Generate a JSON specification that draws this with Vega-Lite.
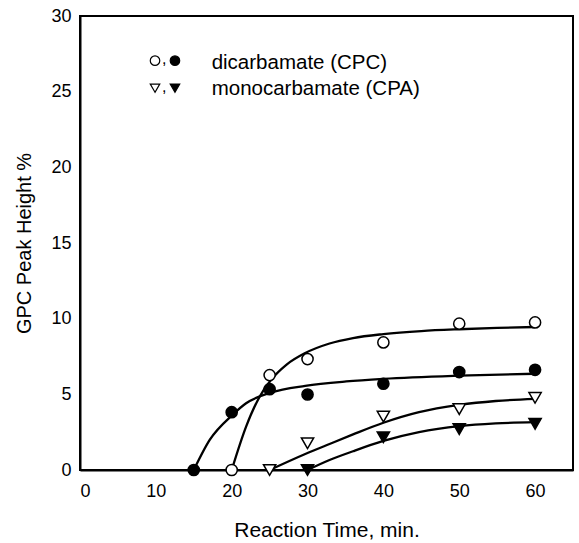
{
  "$schema": "https://vega.github.io/schema/vega-lite/v6.json",
  "autosize": {"type": "none"},
  "padding": {"left": 80, "top": 16, "right": 6, "bottom": 73},
  "width": 493,
  "height": 454,
  "background": "white",
  "config": {
    "font": "Liberation Sans",
    "view": {"stroke": "black", "strokeWidth": 2},
    "axis": {
      "domainColor": "black", "domainWidth": 2, "ticks": false, "grid": false,
      "labelColor": "black", "titleColor": "black",
      "labelFont": "Liberation Sans", "titleFont": "Liberation Sans",
      "labelFontSize": 18, "titleFontSize": 20, "titleFontWeight": "normal"
    }
  },
  "datasets": {
    "points": [
      {"compound": "dicarbamate", "state": "open", "time": 20, "height": 0},
      {"compound": "dicarbamate", "state": "open", "time": 25, "height": 6.27},
      {"compound": "dicarbamate", "state": "open", "time": 30, "height": 7.33},
      {"compound": "dicarbamate", "state": "open", "time": 40, "height": 8.43},
      {"compound": "dicarbamate", "state": "open", "time": 50, "height": 9.67},
      {"compound": "dicarbamate", "state": "open", "time": 60, "height": 9.75},
      {"compound": "dicarbamate", "state": "filled", "time": 15, "height": 0},
      {"compound": "dicarbamate", "state": "filled", "time": 20, "height": 3.82},
      {"compound": "dicarbamate", "state": "filled", "time": 25, "height": 5.34},
      {"compound": "dicarbamate", "state": "filled", "time": 30, "height": 4.99},
      {"compound": "dicarbamate", "state": "filled", "time": 40, "height": 5.7},
      {"compound": "dicarbamate", "state": "filled", "time": 50, "height": 6.47},
      {"compound": "dicarbamate", "state": "filled", "time": 60, "height": 6.62},
      {"compound": "monocarbamate", "state": "open", "time": 25, "height": 0},
      {"compound": "monocarbamate", "state": "open", "time": 30, "height": 1.77},
      {"compound": "monocarbamate", "state": "open", "time": 40, "height": 3.53},
      {"compound": "monocarbamate", "state": "open", "time": 50, "height": 4.02},
      {"compound": "monocarbamate", "state": "open", "time": 60, "height": 4.77},
      {"compound": "monocarbamate", "state": "filled", "time": 30, "height": 0},
      {"compound": "monocarbamate", "state": "filled", "time": 40, "height": 2.16},
      {"compound": "monocarbamate", "state": "filled", "time": 50, "height": 2.7},
      {"compound": "monocarbamate", "state": "filled", "time": 60, "height": 3.05}
    ],
    "curves": [
      {"series": "CPC open", "time": 20, "height": 0},
      {"series": "CPC open", "time": 21.9, "height": 2.87},
      {"series": "CPC open", "time": 23.7, "height": 4.86},
      {"series": "CPC open", "time": 25.2, "height": 5.96},
      {"series": "CPC open", "time": 27.2, "height": 6.95},
      {"series": "CPC open", "time": 29.7, "height": 7.73},
      {"series": "CPC open", "time": 32.9, "height": 8.36},
      {"series": "CPC open", "time": 36, "height": 8.72},
      {"series": "CPC open", "time": 40, "height": 8.98},
      {"series": "CPC open", "time": 45, "height": 9.18},
      {"series": "CPC open", "time": 50, "height": 9.3},
      {"series": "CPC open", "time": 55, "height": 9.39},
      {"series": "CPC open", "time": 60, "height": 9.45},
      {"series": "CPC filled", "time": 15, "height": 0},
      {"series": "CPC filled", "time": 17.1, "height": 1.99},
      {"series": "CPC filled", "time": 20.1, "height": 3.64},
      {"series": "CPC filled", "time": 21.9, "height": 4.41},
      {"series": "CPC filled", "time": 25.2, "height": 5.12},
      {"series": "CPC filled", "time": 29.7, "height": 5.56},
      {"series": "CPC filled", "time": 35.1, "height": 5.85},
      {"series": "CPC filled", "time": 40, "height": 6.02},
      {"series": "CPC filled", "time": 50, "height": 6.23},
      {"series": "CPC filled", "time": 60, "height": 6.36},
      {"series": "CPA open", "time": 25, "height": 0},
      {"series": "CPA open", "time": 29.7, "height": 1.06},
      {"series": "CPA open", "time": 32.9, "height": 1.72},
      {"series": "CPA open", "time": 36, "height": 2.35},
      {"series": "CPA open", "time": 40, "height": 3.12},
      {"series": "CPA open", "time": 44.7, "height": 3.82},
      {"series": "CPA open", "time": 50, "height": 4.3},
      {"series": "CPA open", "time": 54.8, "height": 4.56},
      {"series": "CPA open", "time": 60, "height": 4.7},
      {"series": "CPA filled", "time": 30, "height": 0},
      {"series": "CPA filled", "time": 32.9, "height": 0.66},
      {"series": "CPA filled", "time": 36, "height": 1.24},
      {"series": "CPA filled", "time": 40, "height": 1.92},
      {"series": "CPA filled", "time": 44.7, "height": 2.5},
      {"series": "CPA filled", "time": 50, "height": 2.9},
      {"series": "CPA filled", "time": 54.8, "height": 3.08},
      {"series": "CPA filled", "time": 60, "height": 3.16}
    ],
    "xTicks": [{"time": 10}, {"time": 20}, {"time": 30}, {"time": 40}, {"time": 50}, {"time": 60}],
    "yTicks": [{"height": 5}, {"height": 10}, {"height": 15}, {"height": 20}, {"height": 25}],
    "legendSymbols": [
      {"compound": "dicarbamate", "state": "open", "time": 9.89, "height": 27.05},
      {"compound": "dicarbamate", "state": "filled", "time": 12.52, "height": 27.05},
      {"compound": "monocarbamate", "state": "open", "time": 9.89, "height": 25.23},
      {"compound": "monocarbamate", "state": "filled", "time": 12.52, "height": 25.23}
    ],
    "legendCommas": [
      {"time": 11.1, "height": 26.83, "label": ","},
      {"time": 11.1, "height": 24.98, "label": ","}
    ],
    "legendLabels": [
      {"time": 17.36, "height": 26.5, "label": "dicarbamate (CPC)"},
      {"time": 17.36, "height": 24.79, "label": "monocarbamate (CPA)"}
    ]
  },
  "encoding": {
    "x": {
      "field": "time", "type": "quantitative",
      "scale": {"domain": [0, 65], "nice": false, "zero": false},
      "axis": {"values": [0, 10, 20, 30, 40, 50, 60], "title": "Reaction Time, min.", "titleFontSize": 21, "labelPadding": 12, "titleY": 66, "titleBaseline": "alphabetic"}
    },
    "y": {
      "field": "height", "type": "quantitative",
      "scale": {"domain": [0, 30], "nice": false},
      "axis": {"values": [0, 5, 10, 15, 20, 25, 30], "title": "GPC Peak Height %", "labelPadding": 9, "titleX": -50, "titleY": 227, "titleAngle": -90, "titleAlign": "center", "titleBaseline": "alphabetic"}
    }
  },
  "layer": [
    {
      "data": {"name": "xTicks"},
      "mark": {"type": "rule", "color": "black", "strokeWidth": 2},
      "encoding": {"y": {"datum": 0}, "y2": {"datum": 0.46}}
    },
    {
      "data": {"name": "yTicks"},
      "mark": {"type": "rule", "color": "black", "strokeWidth": 2},
      "encoding": {"x": {"datum": 0}, "x2": {"datum": 0.92}}
    },
    {
      "data": {"name": "curves"},
      "mark": {"type": "line", "interpolate": "monotone", "color": "black", "strokeWidth": 2.3},
      "encoding": {"detail": {"field": "series"}}
    },
    {
      "data": {"name": "points"},
      "mark": {"type": "point", "stroke": "black", "strokeWidth": 1.5, "opacity": 1, "filled": false},
      "encoding": {
        "shape": {"field": "compound", "scale": {"domain": ["dicarbamate", "monocarbamate"], "range": ["circle", "triangle-down"]}, "legend": null},
        "fill": {"field": "state", "scale": {"domain": ["open", "filled"], "range": ["white", "black"]}, "legend": null},
        "size": {"field": "compound", "scale": {"domain": ["dicarbamate", "monocarbamate"], "range": [125, 150]}, "legend": null}
      }
    },
    {
      "data": {"name": "legendSymbols"},
      "mark": {"type": "point", "stroke": "black", "strokeWidth": 1.2, "opacity": 1, "filled": false},
      "encoding": {
        "shape": {"field": "compound", "scale": {"domain": ["dicarbamate", "monocarbamate"], "range": ["circle", "triangle-down"]}, "legend": null},
        "fill": {"field": "state", "scale": {"domain": ["open", "filled"], "range": ["white", "black"]}, "legend": null},
        "size": {"value": 90}
      }
    },
    {
      "data": {"name": "legendCommas"},
      "mark": {"type": "text", "fontSize": 16, "align": "center", "baseline": "alphabetic", "color": "black", "font": "Liberation Sans"},
      "encoding": {"text": {"field": "label"}}
    },
    {
      "data": {"name": "legendLabels"},
      "mark": {"type": "text", "fontSize": 20.5, "align": "left", "baseline": "alphabetic", "color": "black", "font": "Liberation Sans"},
      "encoding": {"text": {"field": "label"}}
    }
  ]
}
